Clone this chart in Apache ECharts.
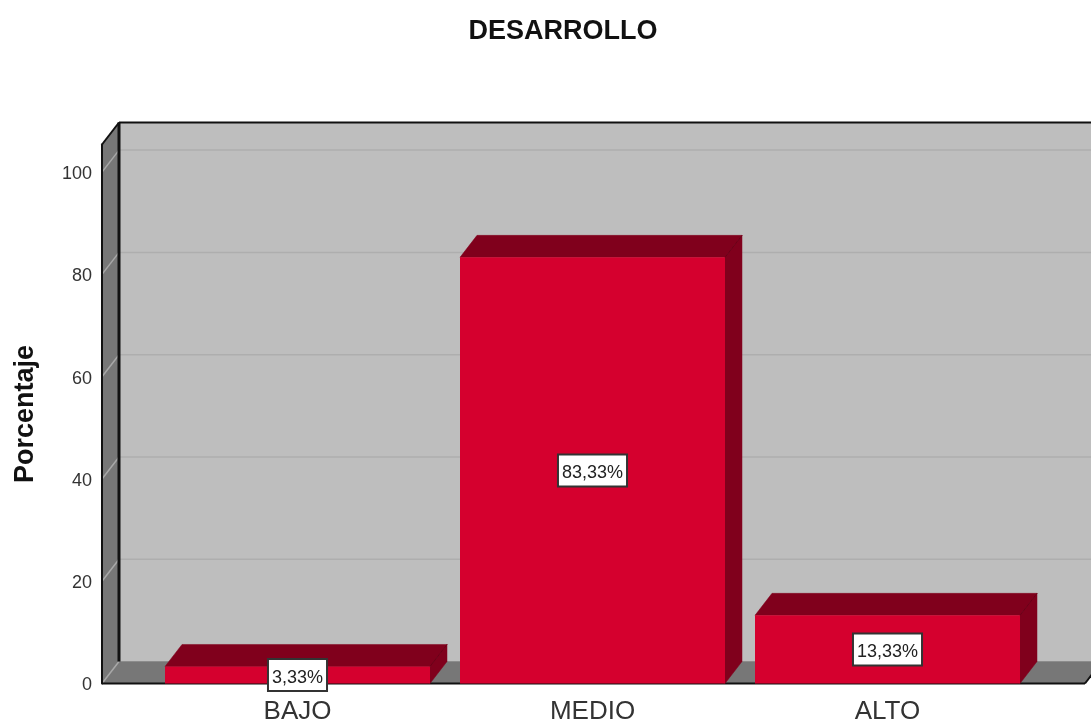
<!DOCTYPE html>
<html>
<head>
<meta charset="utf-8">
<title>DESARROLLO</title>
<style>
  html, body { margin: 0; padding: 0; background: #fff; }
  #chart { width: 1091px; height: 722px; }
</style>
<script src="https://cdn.jsdelivr.net/npm/echarts@6/dist/echarts.min.js"></script>
</head>
<body>
<div id="chart"></div>
<script>
// Percentage of respondents per level
const categories = ['BAJO', 'MEDIO', 'ALTO'];
const percentages = [3.33, 83.33, 13.33];
const wallTicks = [0, 20, 40, 60, 80, 100];
const axisMax = 105.4;

// Pseudo-3D depth of the box and the bars
const depthX = 17;
const depthY = 22;
const barWidth = 265;
const axisOffset = 48;
const floorOverhang = 50;
const FONT = '"Liberation Sans", Arial, sans-serif';

function poly(points, fill, stroke) {
  return {
    type: 'polygon',
    shape: { points },
    style: { fill, stroke: stroke || fill, lineWidth: stroke ? 2 : 0.5 }
  };
}
function line(x1, y1, x2, y2, stroke, lineWidth) {
  return { type: 'line', shape: { x1, y1, x2, y2 }, style: { stroke, lineWidth } };
}

// Back wall, side wall and floor of the box
function renderBox(params, api) {
  const cs = params.coordSys;
  const L = cs.x - axisOffset;
  const R = cs.x + cs.width + floorOverhang;
  const B = api.coord([0, 0])[1];
  const T = api.coord([0, axisMax])[1];
  const children = [
    poly([[L + depthX, T - depthY], [R + depthX, T - depthY], [R + depthX, B - depthY], [L + depthX, B - depthY]], '#bebebe'),
    poly([[L, T], [L + depthX, T - depthY], [L + depthX, B - depthY], [L, B]], '#777777'),
    poly([[L, B], [L + depthX, B - depthY], [R + depthX, B - depthY], [R, B]], '#777777')
  ];
  wallTicks.forEach(function (t) {
    const y = api.coord([0, t])[1];
    children.push(line(L, y, L + depthX, y - depthY, '#a8a8a8', 1.5));
    if (t > 0) children.push(line(L + depthX, y - depthY, R + depthX, y - depthY, '#aeaeae', 1.5));
  });
  children.push(
    line(L, T, L + depthX, T - depthY, '#111', 2),
    line(L + depthX, T - depthY, R + depthX, T - depthY, '#111', 2),
    line(L + depthX, T - depthY, L + depthX, B - depthY, '#111', 3),
    line(L, B, R, B, '#111', 2),
    line(R, B, R + depthX, B - depthY, '#111', 2)
  );
  return { type: 'group', children };
}

// Top and side faces of a bar; the front face is the bar series itself
function renderBarDepth(params, api) {
  const p = api.coord([api.value(0), api.value(1)]);
  const base = api.coord([api.value(0), 0]);
  const x0 = p[0] - barWidth / 2;
  const x1 = p[0] + barWidth / 2;
  const y = p[1];
  return {
    type: 'group',
    children: [
      poly([[x0, y], [x0 + depthX, y - depthY], [x1 + depthX, y - depthY], [x1, y]], '#80001c'),
      poly([[x1, y], [x1 + depthX, y - depthY], [x1 + depthX, base[1] - depthY], [x1, base[1]]], '#80001c'),
      line(x1, y, x1 + depthX, y - depthY, '#6a0017', 1)
    ]
  };
}

const chart = echarts.init(document.getElementById('chart'), null, { renderer: 'canvas' });
chart.setOption({
  animation: false,
  backgroundColor: '#ffffff',
  title: {
    text: 'DESARROLLO',
    left: 558,
    top: 13,
    textAlign: 'center',
    textStyle: { fontFamily: FONT, fontSize: 27, fontWeight: 'bold', color: '#111' }
  },
  grid: { left: 150, top: 144.5, width: 885, height: 539, outerBoundsMode: 'none' },
  xAxis: {
    type: 'category',
    data: categories,
    axisLine: { show: false },
    axisTick: { show: false },
    axisLabel: { fontFamily: FONT, fontSize: 26, color: '#333', margin: 15 }
  },
  yAxis: {
    type: 'value',
    min: 0,
    max: axisMax,
    interval: 20,
    offset: axisOffset,
    z: 10,
    name: 'Porcentaje',
    nameLocation: 'middle',
    nameGap: 63,
    nameTextStyle: { fontFamily: FONT, fontSize: 27, fontWeight: 'bold', color: '#111' },
    axisLine: { show: true, onZero: false, lineStyle: { color: '#111', width: 2 } },
    axisTick: { show: false },
    splitLine: { show: false },
    axisLabel: {
      fontFamily: FONT,
      fontSize: 18,
      color: '#333',
      margin: 10,
      verticalAlign: 'top',
      lineHeight: 4,
      showMaxLabel: false
    }
  },
  series: [
    {
      type: 'custom',
      z: 1,
      silent: true,
      renderItem: renderBox,
      data: [[0, 0]]
    },
    {
      type: 'custom',
      z: 2,
      silent: true,
      renderItem: renderBarDepth,
      encode: { x: 0, y: 1 },
      data: percentages.map(function (v, i) { return [i, v]; })
    },
    {
      type: 'bar',
      z: 3,
      barWidth: barWidth,
      data: percentages,
      itemStyle: { color: '#d5002e' },
      label: {
        show: true,
        position: 'inside',
        backgroundColor: '#ffffff',
        borderColor: '#333',
        borderWidth: 2,
        padding: [9, 3, 3, 3],
        formatter: function (p) { return '{pct|' + p.value.toFixed(2).replace('.', ',') + '%}'; },
        rich: {
          pct: { fontFamily: FONT, fontSize: 18, color: '#222' }
        }
      }
    }
  ]
});
</script>
</body>
</html>
